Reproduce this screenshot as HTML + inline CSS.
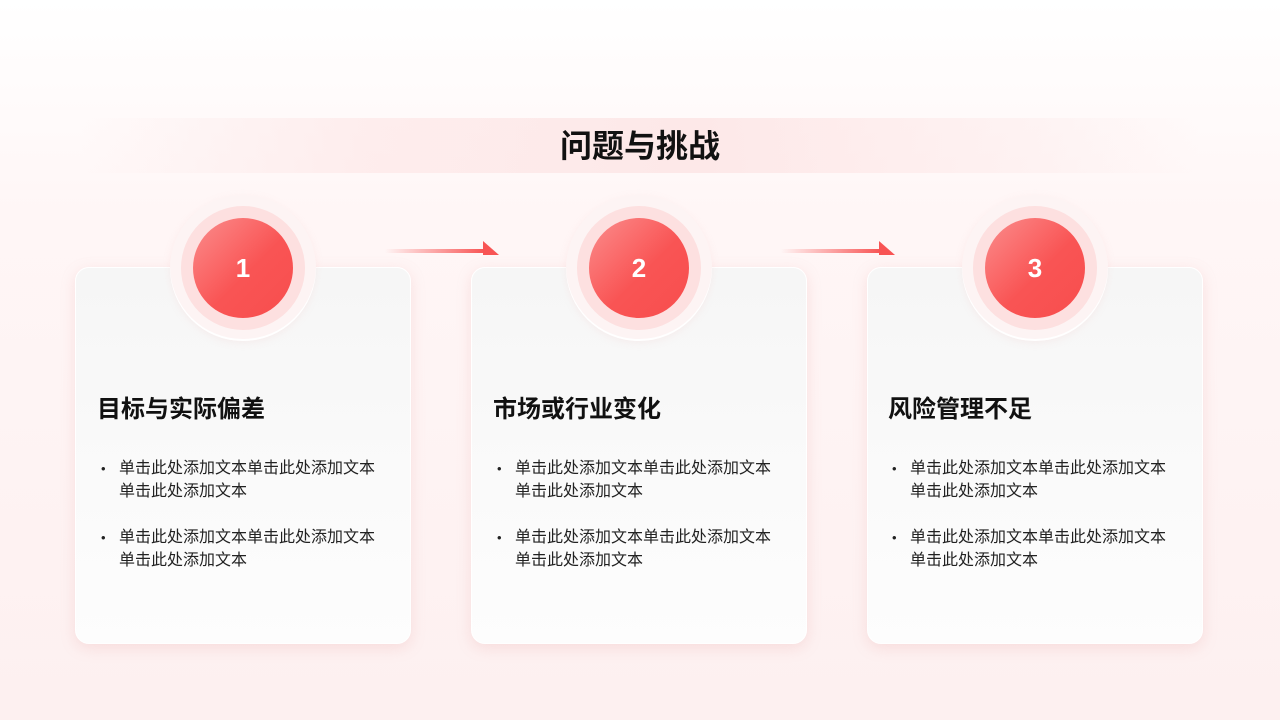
<!DOCTYPE html>
<html><head><meta charset="utf-8"><style>
*{margin:0;padding:0;box-sizing:border-box}
body{width:1280px;height:720px;overflow:hidden;position:relative;font-family:"Liberation Sans","Noto Sans CJK SC",sans-serif;background:linear-gradient(180deg,#fff 0%,#fff6f6 30%,#fdf0f0 100%)}
.band{position:absolute;left:80px;top:118px;width:1120px;height:55px;background:linear-gradient(90deg,rgba(253,230,230,0) 0%,rgba(253,232,232,.7) 25%,#fde8e8 55%,rgba(253,232,232,.4) 85%,rgba(253,232,232,0) 100%)}
.title{position:absolute;left:0;width:1280px;top:124px;text-align:center;font-size:32px;font-weight:bold;color:#111;line-height:44px}
.card{position:absolute;top:267px;width:336px;height:377px;border-radius:14px;background:linear-gradient(180deg,#f6f6f6,#fdfdfd);box-shadow:0 4px 14px rgba(230,160,160,.25);border:1px solid #fff}
.notch{position:absolute;top:195px;width:146px;height:146px;border-radius:50%;background:#fdf4f4;box-shadow:inset 0 -2px 0 #fff,0 2px 8px rgba(240,180,180,.15)}
.ring{position:absolute;top:206px;width:124px;height:124px;border-radius:50%;background:#fde0e0}
.dot{position:absolute;top:218px;width:100px;height:100px;border-radius:50%;background:linear-gradient(135deg,#fb8d8d 0%,#f95454 55%,#f84e4e 100%);color:#fff;font-size:26px;font-weight:bold;text-align:center;line-height:100px}
.h{position:absolute;top:395px;font-size:24px;font-weight:bold;color:#111;line-height:30px}
.b{position:absolute;font-size:16px;color:#222;line-height:23px;width:320px}
.b:before{content:"•";position:absolute;left:-18px;font-size:13px}
.arr{position:absolute;top:249px;width:100px;height:4px;background:linear-gradient(90deg,rgba(248,80,80,0),#f85454)}
.ah{position:absolute;top:241px;width:0;height:0;border-top:14px solid transparent;border-left:16px solid #f85454}
</style></head><body>
<div class="band"></div>
<div class="title">问题与挑战</div>

<div class="arr" style="left:385px"></div><div class="ah" style="left:483px"></div>
<div class="arr" style="left:781px"></div><div class="ah" style="left:879px"></div>

<div class="card" style="left:75px"></div>
<div class="card" style="left:471px"></div>
<div class="card" style="left:867px"></div>

<div class="notch" style="left:170px"></div>
<div class="notch" style="left:566px"></div>
<div class="notch" style="left:962px"></div>
<div class="ring" style="left:181px"></div>
<div class="ring" style="left:577px"></div>
<div class="ring" style="left:973px"></div>
<div class="dot" style="left:193px">1</div>
<div class="dot" style="left:589px">2</div>
<div class="dot" style="left:985px">3</div>

<div class="h" style="left:97px">目标与实际偏差</div>
<div class="h" style="left:493px">市场或行业变化</div>
<div class="h" style="left:888px">风险管理不足</div>

<div class="b" style="left:119px;top:457px">单击此处添加文本单击此处添加文本<br>单击此处添加文本</div>
<div class="b" style="left:119px;top:526px">单击此处添加文本单击此处添加文本<br>单击此处添加文本</div>
<div class="b" style="left:515px;top:457px">单击此处添加文本单击此处添加文本<br>单击此处添加文本</div>
<div class="b" style="left:515px;top:526px">单击此处添加文本单击此处添加文本<br>单击此处添加文本</div>
<div class="b" style="left:910px;top:457px">单击此处添加文本单击此处添加文本<br>单击此处添加文本</div>
<div class="b" style="left:910px;top:526px">单击此处添加文本单击此处添加文本<br>单击此处添加文本</div>
</body></html>
